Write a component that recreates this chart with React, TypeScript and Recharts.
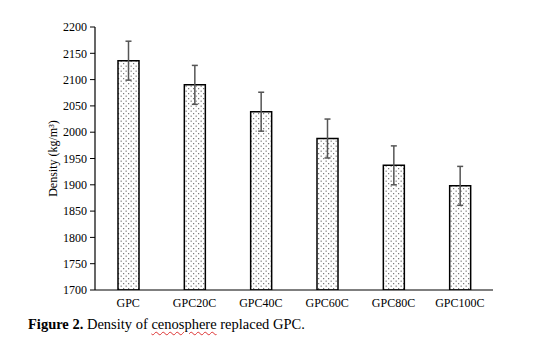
import { Bar, BarChart, ErrorBar, XAxis, YAxis } from "recharts";

const categories = ["GPC", "GPC20C", "GPC40C", "GPC60C", "GPC80C", "GPC100C"];
const density = [2136, 2090, 2039, 1988, 1937, 1898];
const densityError = [37, 37, 37, 37, 37, 37];
const yTicks = [1700, 1750, 1800, 1850, 1900, 1950, 2000, 2050, 2100, 2150, 2200];

const serif = "'Liberation Serif', 'Times New Roman', serif";

export default function App() {
  const data = categories.map((name, i) => ({
    name,
    density: density[i],
    err: densityError[i],
  }));

  return (
    <div
      style={{
        position: "absolute",
        left: 0,
        top: 0,
        width: 541,
        height: 346,
        background: "#fff",
        fontFamily: serif,
      }}
    >
      <BarChart
        width={541}
        height={312}
        data={data}
        margin={{ top: 27, right: 48, left: 0, bottom: 0 }}
      >
        <defs>
          {/* staggered dot fill for the bars */}
          <pattern id="dots" width="5" height="5" patternUnits="userSpaceOnUse">
            <rect width="5" height="5" fill="#fff" />
            <rect x="0.6" y="0.6" width="1.1" height="1.1" fill="#5a5a5a" />
            <rect x="3.1" y="3.1" width="1.1" height="1.1" fill="#5a5a5a" />
          </pattern>
        </defs>
        <XAxis
          dataKey="name"
          height={22}
          tickLine={false}
          axisLine={{ stroke: "#000", strokeWidth: 1.2 }}
          tick={{ fill: "#000", fontSize: 12, fontFamily: serif }}
          interval={0}
        />
        <YAxis
          width={95}
          domain={[1700, 2200]}
          ticks={yTicks}
          tickSize={5}
          tickMargin={3}
          allowDataOverflow
          axisLine={{ stroke: "#000", strokeWidth: 1.2 }}
          tickLine={{ stroke: "#000" }}
          tick={{ fill: "#000", fontSize: 12, fontFamily: serif }}
          label={{
            value: "Density (kg/m³)",
            angle: -90,
            position: "center",
            dx: 5,
            fill: "#000",
            fontSize: 12,
            fontFamily: serif,
          }}
        />
        <Bar
          dataKey="density"
          barSize={21}
          fill="url(#dots)"
          stroke="#000"
          strokeWidth={1.5}
          isAnimationActive={false}
        >
          <ErrorBar
            dataKey="err"
            direction="y"
            width={3}
            stroke="#555"
            strokeWidth={1.5}
            isAnimationActive={false}
          />
        </Bar>
      </BarChart>
      <div
        style={{
          position: "absolute",
          left: 28,
          top: 316,
          fontSize: 14.5,
          color: "#000",
          whiteSpace: "nowrap",
        }}
      >
        <b>Figure 2.</b> Density of{" "}
        <span
          style={{
            textDecoration: "underline wavy #d33",
            textDecorationThickness: 1,
            textUnderlineOffset: 2,
          }}
        >
          cenosphere
        </span>{" "}
        replaced GPC.
      </div>
    </div>
  );
}
